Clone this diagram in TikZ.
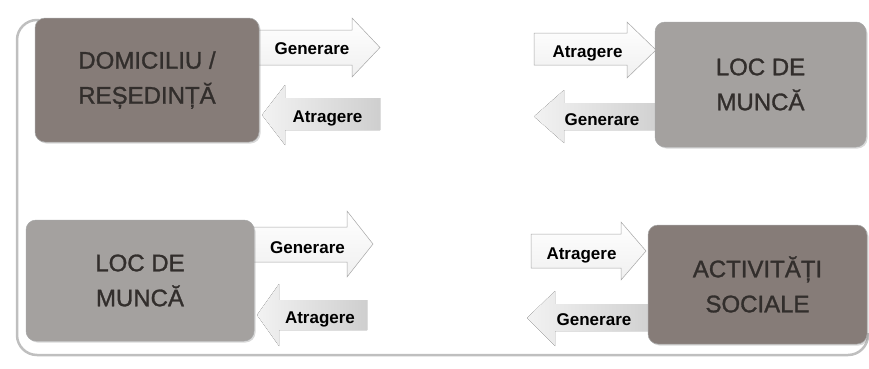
\documentclass[tikz,border=0pt]{standalone}
\usepackage{fontspec}
\setmainfont{Liberation Sans}
\newfontfamily\boxfont[FakeBold=1.2]{Liberation Sans}
\usepackage{xcolor}
\usetikzlibrary{calc,shadows}

\definecolor{boxdark}{RGB}{134,124,120}
\definecolor{boxlight}{RGB}{164,161,159}
\definecolor{boxtext}{RGB}{50,46,44}

\tikzset{
    box/.style={rounded corners=10pt, inner sep=0pt, align=center, text=boxtext,
        font=\boxfont\fontsize{24}{35}\selectfont, draw=black!35, line width=0.5pt,
        drop shadow={shadow xshift=1.5pt, shadow yshift=-1.5pt, opacity=0.3}},
    rarrow/.style={draw=gray!70, line width=0.5pt, top color=white, bottom color=gray!12},
    larrow/.style={left color=gray!10, right color=gray!38},
    lbl/.style={font=\bfseries\fontsize{17}{17}\selectfont, text height=12pt, text depth=0pt, inner sep=0pt},
    frame/.style={gray!50, line width=2.5pt, rounded corners=20pt}
}

\begin{document}
\begin{tikzpicture}[x=1pt, y=1pt]
    \useasboundingbox (0,0) rectangle (869,368);

    % Outer frame (left and bottom edges)
    \draw[frame] (39,348) -- (17,348) -- (17,13) -- (868,13) -- (868,35);

    % Arrows of the upper left box
    \draw[rarrow] (250,338) -- (352,338) -- (352,350) -- (380,320.5) -- (352,291) -- (352,303) -- (250,303) -- cycle;
    \fill[larrow] (380,270) -- (285,270) -- (285,283) -- (262,253) -- (285,223) -- (285,238) -- (380,238) -- cycle;

    % Arrows of the upper right box
    \draw[rarrow] (534,335) -- (627,335) -- (627,346) -- (656,318) -- (627,290) -- (627,303) -- (534,303) -- cycle;
    \fill[larrow] (665,265) -- (564,265) -- (564,278) -- (534,251.5) -- (564,225) -- (564,238) -- (665,238) -- cycle;

    % Arrows of the lower left box
    \draw[rarrow] (245,141) -- (347,141) -- (347,157) -- (373,124) -- (347,91) -- (347,106) -- (245,106) -- cycle;
    \fill[larrow] (367,68) -- (279,68) -- (279,84) -- (257,53) -- (279,22) -- (279,38) -- (367,38) -- cycle;

    % Arrows of the lower right box
    \draw[rarrow] (531,134) -- (621,134) -- (621,146) -- (646,117) -- (621,88) -- (621,100) -- (531,100) -- cycle;
    \fill[larrow] (660,64) -- (555,64) -- (555,77) -- (527,50) -- (555,22) -- (555,37) -- (660,37) -- cycle;

    % Boxes
    \node[box, fill=boxdark, minimum width=224, minimum height=124] (dom) at (147,288) {DOMICILIU /\\REȘEDINȚĂ};
    \node[box, fill=boxlight, minimum width=211, minimum height=125] (muncaA) at (760.5,283.5) {LOC DE\\MUNCĂ};
    \node[box, fill=boxlight, minimum width=228, minimum height=121] (muncaB) at (140,87.5) {LOC DE\\MUNCĂ};
    \node[box, fill=boxdark, minimum width=219, minimum height=119] (activ) at (757.5,83.5) {ACTIVITĂȚI\\SOCIALE};

    % Arrow labels
    \node[lbl] (genDom) at (312,320) {Generare};
    \node[lbl] (atrDom) at (327.5,252) {Atragere};
    \node[lbl] (atrMuncaA) at (587.5,317) {Atragere};
    \node[lbl] (genMuncaA) at (602,249) {Generare};
    \node[lbl] (genMuncaB) at (307.5,121) {Generare};
    \node[lbl] (atrMuncaB) at (320,51) {Atragere};
    \node[lbl] (atrActiv) at (581.5,115) {Atragere};
    \node[lbl] (genActiv) at (594,49) {Generare};
\end{tikzpicture}
\end{document}
